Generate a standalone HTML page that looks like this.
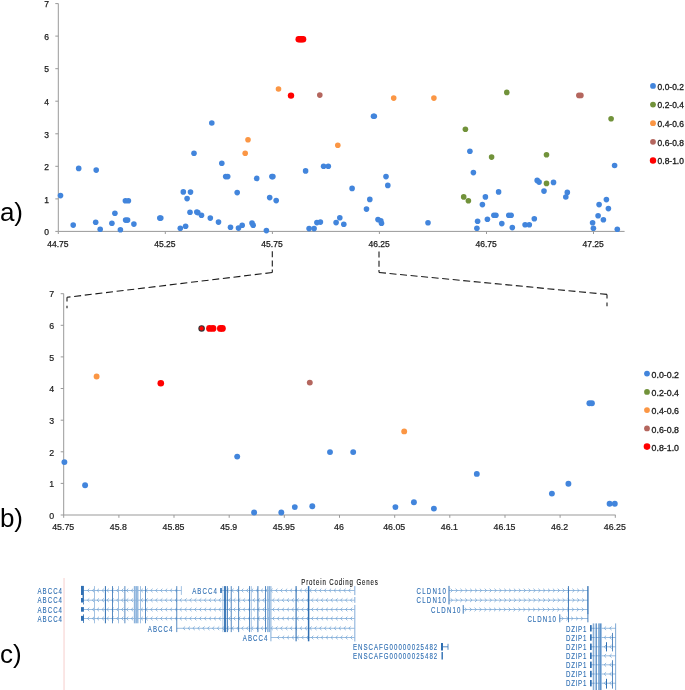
<!DOCTYPE html>
<html><head><meta charset="utf-8"><title>Figure</title>
<style>
html,body{margin:0;padding:0;background:#fff;}
svg{display:block;}
text{font-family:"Liberation Sans",sans-serif;}
.t{fill:#1a1a1a;}
.a{font-size:8.5px;stroke:#1a1a1a;stroke-width:0.25;}
.b{font-size:8.8px;stroke:#1a1a1a;stroke-width:0.2;}
.l{font-size:8.45px;stroke:#1a1a1a;stroke-width:0.3;}
.p{font-size:26px;fill:#000;}
.g{font-size:8.5px;stroke-width:0.12;}
</style></head><body>
<svg width="685" height="690" viewBox="0 0 685 690">
<rect width="685" height="690" fill="#fff"/>
<path d="M58.3 3.5V231.4H624.6" fill="none" stroke="#999" stroke-width="1"/>
<path d="M55.3 231.4H58.3" stroke="#999" stroke-width="1"/>
<text x="46.6" y="235.1" class="t a" text-anchor="middle">0</text>
<path d="M55.3 198.9H58.3" stroke="#999" stroke-width="1"/>
<text x="46.6" y="202.6" class="t a" text-anchor="middle">1</text>
<path d="M55.3 166.3H58.3" stroke="#999" stroke-width="1"/>
<text x="46.6" y="170.0" class="t a" text-anchor="middle">2</text>
<path d="M55.3 133.8H58.3" stroke="#999" stroke-width="1"/>
<text x="46.6" y="137.5" class="t a" text-anchor="middle">3</text>
<path d="M55.3 101.2H58.3" stroke="#999" stroke-width="1"/>
<text x="46.6" y="104.9" class="t a" text-anchor="middle">4</text>
<path d="M55.3 68.7H58.3" stroke="#999" stroke-width="1"/>
<text x="46.6" y="72.4" class="t a" text-anchor="middle">5</text>
<path d="M55.3 36.1H58.3" stroke="#999" stroke-width="1"/>
<text x="46.6" y="39.8" class="t a" text-anchor="middle">6</text>
<path d="M55.3 3.6H58.3" stroke="#999" stroke-width="1"/>
<text x="46.6" y="7.3" class="t a" text-anchor="middle">7</text>
<path d="M58.3 231.4V234" stroke="#999" stroke-width="1"/>
<text x="57.9" y="246.5" class="t a" text-anchor="middle">44.75</text>
<path d="M165.3 231.4V234" stroke="#999" stroke-width="1"/>
<text x="164.9" y="246.5" class="t a" text-anchor="middle">45.25</text>
<path d="M272.4 231.4V234" stroke="#999" stroke-width="1"/>
<text x="272.0" y="246.5" class="t a" text-anchor="middle">45.75</text>
<path d="M379.4 231.4V234" stroke="#999" stroke-width="1"/>
<text x="379.1" y="246.5" class="t a" text-anchor="middle">46.25</text>
<path d="M486.5 231.4V234" stroke="#999" stroke-width="1"/>
<text x="486.1" y="246.5" class="t a" text-anchor="middle">46.75</text>
<path d="M593.5 231.4V234" stroke="#999" stroke-width="1"/>
<text x="593.1" y="246.5" class="t a" text-anchor="middle">47.25</text>
<circle cx="60.5" cy="195.6" r="2.8" fill="#4285DC"/>
<circle cx="78.7" cy="168.4" r="2.8" fill="#4285DC"/>
<circle cx="96.2" cy="170.1" r="2.8" fill="#4285DC"/>
<circle cx="73.2" cy="225.1" r="2.8" fill="#4285DC"/>
<circle cx="95.7" cy="222.3" r="2.8" fill="#4285DC"/>
<circle cx="100.2" cy="229.3" r="2.8" fill="#4285DC"/>
<circle cx="111.9" cy="223.3" r="2.8" fill="#4285DC"/>
<circle cx="114.9" cy="213.3" r="2.8" fill="#4285DC"/>
<circle cx="120.4" cy="229.8" r="2.8" fill="#4285DC"/>
<circle cx="125.4" cy="200.8" r="2.8" fill="#4285DC"/>
<circle cx="128.4" cy="200.8" r="2.8" fill="#4285DC"/>
<circle cx="125.6" cy="220.1" r="2.8" fill="#4285DC"/>
<circle cx="127.6" cy="220.1" r="2.8" fill="#4285DC"/>
<circle cx="133.9" cy="224.1" r="2.8" fill="#4285DC"/>
<circle cx="159.8" cy="218.1" r="2.8" fill="#4285DC"/>
<circle cx="160.8" cy="218.1" r="2.8" fill="#4285DC"/>
<circle cx="180.3" cy="228.3" r="2.8" fill="#4285DC"/>
<circle cx="185.6" cy="226.3" r="2.8" fill="#4285DC"/>
<circle cx="183.3" cy="191.9" r="2.8" fill="#4285DC"/>
<circle cx="190.5" cy="192.1" r="2.8" fill="#4285DC"/>
<circle cx="187.1" cy="198.6" r="2.8" fill="#4285DC"/>
<circle cx="190.0" cy="212.3" r="2.8" fill="#4285DC"/>
<circle cx="196.8" cy="212.1" r="2.8" fill="#4285DC"/>
<circle cx="197.8" cy="212.6" r="2.8" fill="#4285DC"/>
<circle cx="201.5" cy="215.3" r="2.8" fill="#4285DC"/>
<circle cx="210.3" cy="218.1" r="2.8" fill="#4285DC"/>
<circle cx="218.5" cy="222.1" r="2.8" fill="#4285DC"/>
<circle cx="194.0" cy="153.2" r="2.8" fill="#4285DC"/>
<circle cx="211.8" cy="123.0" r="2.8" fill="#4285DC"/>
<circle cx="221.8" cy="163.2" r="2.8" fill="#4285DC"/>
<circle cx="225.7" cy="176.6" r="2.8" fill="#4285DC"/>
<circle cx="227.7" cy="176.6" r="2.8" fill="#4285DC"/>
<circle cx="230.5" cy="227.3" r="2.8" fill="#4285DC"/>
<circle cx="237.2" cy="192.6" r="2.8" fill="#4285DC"/>
<circle cx="238.5" cy="228.1" r="2.8" fill="#4285DC"/>
<circle cx="242.2" cy="225.3" r="2.8" fill="#4285DC"/>
<circle cx="252.0" cy="223.1" r="2.8" fill="#4285DC"/>
<circle cx="253.2" cy="225.3" r="2.8" fill="#4285DC"/>
<circle cx="256.7" cy="178.4" r="2.8" fill="#4285DC"/>
<circle cx="266.4" cy="230.6" r="2.8" fill="#4285DC"/>
<circle cx="269.7" cy="197.6" r="2.8" fill="#4285DC"/>
<circle cx="271.9" cy="176.6" r="2.8" fill="#4285DC"/>
<circle cx="272.9" cy="176.6" r="2.8" fill="#4285DC"/>
<circle cx="276.2" cy="200.6" r="2.8" fill="#4285DC"/>
<circle cx="305.6" cy="170.9" r="2.8" fill="#4285DC"/>
<circle cx="309.1" cy="228.6" r="2.8" fill="#4285DC"/>
<circle cx="314.1" cy="228.6" r="2.8" fill="#4285DC"/>
<circle cx="316.9" cy="222.6" r="2.8" fill="#4285DC"/>
<circle cx="320.4" cy="222.1" r="2.8" fill="#4285DC"/>
<circle cx="323.6" cy="166.2" r="2.8" fill="#4285DC"/>
<circle cx="328.3" cy="166.2" r="2.8" fill="#4285DC"/>
<circle cx="336.1" cy="222.6" r="2.8" fill="#4285DC"/>
<circle cx="339.8" cy="217.8" r="2.8" fill="#4285DC"/>
<circle cx="343.8" cy="224.3" r="2.8" fill="#4285DC"/>
<circle cx="352.1" cy="188.4" r="2.8" fill="#4285DC"/>
<circle cx="366.5" cy="209.1" r="2.8" fill="#4285DC"/>
<circle cx="369.8" cy="199.4" r="2.8" fill="#4285DC"/>
<circle cx="373.5" cy="116.2" r="2.8" fill="#4285DC"/>
<circle cx="374.3" cy="116.2" r="2.8" fill="#4285DC"/>
<circle cx="378.0" cy="219.6" r="2.8" fill="#4285DC"/>
<circle cx="380.8" cy="220.8" r="2.8" fill="#4285DC"/>
<circle cx="381.5" cy="223.3" r="2.8" fill="#4285DC"/>
<circle cx="386.0" cy="176.6" r="2.8" fill="#4285DC"/>
<circle cx="387.8" cy="185.4" r="2.8" fill="#4285DC"/>
<circle cx="428.0" cy="222.8" r="2.8" fill="#4285DC"/>
<circle cx="469.9" cy="151.2" r="2.8" fill="#4285DC"/>
<circle cx="473.4" cy="172.6" r="2.8" fill="#4285DC"/>
<circle cx="485.4" cy="196.9" r="2.8" fill="#4285DC"/>
<circle cx="482.4" cy="204.6" r="2.8" fill="#4285DC"/>
<circle cx="498.6" cy="191.9" r="2.8" fill="#4285DC"/>
<circle cx="477.6" cy="221.3" r="2.8" fill="#4285DC"/>
<circle cx="476.9" cy="228.3" r="2.8" fill="#4285DC"/>
<circle cx="487.4" cy="219.3" r="2.8" fill="#4285DC"/>
<circle cx="493.9" cy="215.3" r="2.8" fill="#4285DC"/>
<circle cx="495.9" cy="215.3" r="2.8" fill="#4285DC"/>
<circle cx="501.8" cy="223.6" r="2.8" fill="#4285DC"/>
<circle cx="508.8" cy="215.3" r="2.8" fill="#4285DC"/>
<circle cx="511.1" cy="215.3" r="2.8" fill="#4285DC"/>
<circle cx="512.3" cy="227.6" r="2.8" fill="#4285DC"/>
<circle cx="525.1" cy="224.8" r="2.8" fill="#4285DC"/>
<circle cx="529.3" cy="224.8" r="2.8" fill="#4285DC"/>
<circle cx="534.3" cy="218.8" r="2.8" fill="#4285DC"/>
<circle cx="537.2" cy="180.4" r="2.8" fill="#4285DC"/>
<circle cx="539.1" cy="182.1" r="2.8" fill="#4285DC"/>
<circle cx="544.0" cy="191.1" r="2.8" fill="#4285DC"/>
<circle cx="553.5" cy="182.4" r="2.8" fill="#4285DC"/>
<circle cx="565.8" cy="197.0" r="2.8" fill="#4285DC"/>
<circle cx="567.3" cy="192.4" r="2.8" fill="#4285DC"/>
<circle cx="592.6" cy="222.8" r="2.8" fill="#4285DC"/>
<circle cx="593.4" cy="228.3" r="2.8" fill="#4285DC"/>
<circle cx="598.1" cy="215.8" r="2.8" fill="#4285DC"/>
<circle cx="599.1" cy="204.6" r="2.8" fill="#4285DC"/>
<circle cx="603.4" cy="219.8" r="2.8" fill="#4285DC"/>
<circle cx="606.4" cy="199.6" r="2.8" fill="#4285DC"/>
<circle cx="608.4" cy="208.6" r="2.8" fill="#4285DC"/>
<circle cx="614.6" cy="165.5" r="2.8" fill="#4285DC"/>
<circle cx="617.3" cy="229.3" r="2.8" fill="#4285DC"/>
<circle cx="465.4" cy="129.2" r="2.8" fill="#71923A"/>
<circle cx="463.7" cy="196.9" r="2.8" fill="#71923A"/>
<circle cx="468.4" cy="200.8" r="2.8" fill="#71923A"/>
<circle cx="491.6" cy="157.1" r="2.8" fill="#71923A"/>
<circle cx="546.5" cy="154.8" r="2.8" fill="#71923A"/>
<circle cx="546.5" cy="183.4" r="2.8" fill="#71923A"/>
<circle cx="506.8" cy="92.4" r="2.8" fill="#71923A"/>
<circle cx="611.1" cy="118.8" r="2.8" fill="#71923A"/>
<circle cx="245.2" cy="153.2" r="2.8" fill="#FB9644"/>
<circle cx="248.0" cy="139.7" r="2.8" fill="#FB9644"/>
<circle cx="337.8" cy="145.2" r="2.8" fill="#FB9644"/>
<circle cx="278.5" cy="89.0" r="2.8" fill="#FB9644"/>
<circle cx="393.7" cy="98.1" r="2.8" fill="#FB9644"/>
<circle cx="433.9" cy="98.1" r="2.8" fill="#FB9644"/>
<circle cx="319.8" cy="95.1" r="2.8" fill="#B4665E"/>
<circle cx="578.9" cy="95.4" r="2.8" fill="#B4665E"/>
<circle cx="580.9" cy="95.4" r="2.8" fill="#B4665E"/>
<circle cx="291.0" cy="95.6" r="3.2" fill="#FF0000"/>
<circle cx="298.7" cy="39.2" r="3.2" fill="#FF0000"/>
<circle cx="300.2" cy="39.2" r="3.2" fill="#FF0000"/>
<circle cx="301.6" cy="39.2" r="3.2" fill="#FF0000"/>
<circle cx="303.1" cy="39.2" r="3.2" fill="#FF0000"/>
<circle cx="653.0" cy="85.9" r="2.9" fill="#4285DC"/>
<text x="657.6" y="89.7" class="t l">0.0-0.2</text>
<circle cx="653.0" cy="104.6" r="2.9" fill="#71923A"/>
<text x="657.6" y="108.4" class="t l">0.2-0.4</text>
<circle cx="653.0" cy="123.2" r="2.9" fill="#FB9644"/>
<text x="657.6" y="127.0" class="t l">0.4-0.6</text>
<circle cx="653.0" cy="141.8" r="2.9" fill="#B4665E"/>
<text x="657.6" y="145.7" class="t l">0.6-0.8</text>
<circle cx="653.0" cy="160.5" r="3.2" fill="#FF0000"/>
<text x="657.6" y="164.3" class="t l">0.8-1.0</text>
<path d="M272.3 251.2V272.5" stroke="#1a1a1a" stroke-width="1.1" fill="none" stroke-dasharray="6 3.2"/>
<path d="M272.3 272.5L67 297.3" stroke="#1a1a1a" stroke-width="1.1" fill="none" stroke-dasharray="7 3.7"/>
<path d="M67 297.3V308.3" stroke="#1a1a1a" stroke-width="1.1" fill="none" stroke-dasharray="4.2 4.2 3 9"/>
<path d="M379 251.6V272.5" stroke="#1a1a1a" stroke-width="1.1" fill="none" stroke-dasharray="6 3.2"/>
<path d="M379 272.5L607 294.4" stroke="#1a1a1a" stroke-width="1.1" fill="none" stroke-dasharray="7 3.574"/>
<path d="M607 294.4V306.3" stroke="#1a1a1a" stroke-width="1.1" fill="none" stroke-dasharray="4.2 4 4 9"/>
<path d="M63.7 293.7V515H615.6" fill="none" stroke="#999" stroke-width="1"/>
<path d="M60.7 515.0H63.7" stroke="#999" stroke-width="1"/>
<text x="51.6" y="518.7" class="t b" text-anchor="middle">0</text>
<path d="M60.7 483.4H63.7" stroke="#999" stroke-width="1"/>
<text x="51.6" y="487.1" class="t b" text-anchor="middle">1</text>
<path d="M60.7 451.8H63.7" stroke="#999" stroke-width="1"/>
<text x="51.6" y="455.5" class="t b" text-anchor="middle">2</text>
<path d="M60.7 420.2H63.7" stroke="#999" stroke-width="1"/>
<text x="51.6" y="423.9" class="t b" text-anchor="middle">3</text>
<path d="M60.7 388.5H63.7" stroke="#999" stroke-width="1"/>
<text x="51.6" y="392.2" class="t b" text-anchor="middle">4</text>
<path d="M60.7 356.9H63.7" stroke="#999" stroke-width="1"/>
<text x="51.6" y="360.6" class="t b" text-anchor="middle">5</text>
<path d="M60.7 325.3H63.7" stroke="#999" stroke-width="1"/>
<text x="51.6" y="329.0" class="t b" text-anchor="middle">6</text>
<path d="M60.7 293.7H63.7" stroke="#999" stroke-width="1"/>
<text x="51.6" y="297.4" class="t b" text-anchor="middle">7</text>
<path d="M63.7 515V517.8" stroke="#999" stroke-width="1"/>
<text x="63.2" y="529.7" class="t b" text-anchor="middle">45.75</text>
<path d="M118.9 515V517.8" stroke="#999" stroke-width="1"/>
<text x="118.4" y="529.7" class="t b" text-anchor="middle">45.8</text>
<path d="M174.0 515V517.8" stroke="#999" stroke-width="1"/>
<text x="173.5" y="529.7" class="t b" text-anchor="middle">45.85</text>
<path d="M229.2 515V517.8" stroke="#999" stroke-width="1"/>
<text x="228.7" y="529.7" class="t b" text-anchor="middle">45.9</text>
<path d="M284.3 515V517.8" stroke="#999" stroke-width="1"/>
<text x="283.8" y="529.7" class="t b" text-anchor="middle">45.95</text>
<path d="M339.5 515V517.8" stroke="#999" stroke-width="1"/>
<text x="339.0" y="529.7" class="t b" text-anchor="middle">46</text>
<path d="M394.7 515V517.8" stroke="#999" stroke-width="1"/>
<text x="394.2" y="529.7" class="t b" text-anchor="middle">46.05</text>
<path d="M449.8 515V517.8" stroke="#999" stroke-width="1"/>
<text x="449.3" y="529.7" class="t b" text-anchor="middle">46.1</text>
<path d="M505.0 515V517.8" stroke="#999" stroke-width="1"/>
<text x="504.5" y="529.7" class="t b" text-anchor="middle">46.15</text>
<path d="M560.1 515V517.8" stroke="#999" stroke-width="1"/>
<text x="559.6" y="529.7" class="t b" text-anchor="middle">46.2</text>
<path d="M615.3 515V517.8" stroke="#999" stroke-width="1"/>
<text x="614.8" y="529.7" class="t b" text-anchor="middle">46.25</text>
<circle cx="64.4" cy="462.1" r="2.95" fill="#4285DC"/>
<circle cx="85.1" cy="485.3" r="2.95" fill="#4285DC"/>
<circle cx="237.2" cy="456.6" r="2.95" fill="#4285DC"/>
<circle cx="254.1" cy="512.5" r="2.95" fill="#4285DC"/>
<circle cx="281.3" cy="512.5" r="2.95" fill="#4285DC"/>
<circle cx="294.8" cy="507.1" r="2.95" fill="#4285DC"/>
<circle cx="312.3" cy="506.3" r="2.95" fill="#4285DC"/>
<circle cx="330.0" cy="452.1" r="2.95" fill="#4285DC"/>
<circle cx="353.2" cy="452.1" r="2.95" fill="#4285DC"/>
<circle cx="395.4" cy="507.1" r="2.95" fill="#4285DC"/>
<circle cx="413.9" cy="502.3" r="2.95" fill="#4285DC"/>
<circle cx="433.9" cy="508.6" r="2.95" fill="#4285DC"/>
<circle cx="476.8" cy="473.9" r="2.95" fill="#4285DC"/>
<circle cx="589.4" cy="403.2" r="2.95" fill="#4285DC"/>
<circle cx="591.9" cy="403.2" r="2.95" fill="#4285DC"/>
<circle cx="568.4" cy="483.8" r="2.95" fill="#4285DC"/>
<circle cx="551.9" cy="493.6" r="2.95" fill="#4285DC"/>
<circle cx="609.6" cy="503.8" r="2.95" fill="#4285DC"/>
<circle cx="614.8" cy="503.8" r="2.95" fill="#4285DC"/>
<circle cx="96.6" cy="376.5" r="2.95" fill="#FB9644"/>
<circle cx="404.2" cy="431.4" r="2.95" fill="#FB9644"/>
<circle cx="309.8" cy="382.6" r="2.95" fill="#B4665E"/>
<circle cx="160.8" cy="383.3" r="3.3" fill="#FF0000"/>
<circle cx="201.6" cy="328.4" r="2.7" fill="#FF0000" stroke="#333" stroke-width="1.1"/>
<circle cx="209.5" cy="328.4" r="3.4" fill="#FF0000"/>
<circle cx="213.0" cy="328.4" r="3.4" fill="#FF0000"/>
<circle cx="220.4" cy="328.4" r="3.4" fill="#FF0000"/>
<circle cx="222.4" cy="328.4" r="3.4" fill="#FF0000"/>
<circle cx="647.0" cy="373.6" r="2.9" fill="#4285DC"/>
<text x="651.6" y="377.7" class="t l" style="font-size:8.8px">0.0-0.2</text>
<circle cx="647.0" cy="391.9" r="2.9" fill="#71923A"/>
<text x="651.6" y="396.0" class="t l" style="font-size:8.8px">0.2-0.4</text>
<circle cx="647.0" cy="410.1" r="2.9" fill="#FB9644"/>
<text x="651.6" y="414.2" class="t l" style="font-size:8.8px">0.4-0.6</text>
<circle cx="647.0" cy="428.4" r="2.9" fill="#B4665E"/>
<text x="651.6" y="432.5" class="t l" style="font-size:8.8px">0.6-0.8</text>
<circle cx="647.0" cy="446.6" r="3.3" fill="#FF0000"/>
<text x="651.6" y="450.7" class="t l" style="font-size:8.8px">0.8-1.0</text>
<text x="-0.1" y="221.3" class="p">a)</text>
<text x="-0.1" y="526.6" class="p">b)</text>
<text x="-0.1" y="662.9" class="p">c)</text>
<path d="M64.05 578.1V690" stroke="#fae3e1" stroke-width="1.7"/>
<text transform="translate(301.2 585) scale(0.72 1)" class="g" fill="#111" stroke="#111" textLength="106.5" lengthAdjust="spacing">Protein Coding Genes</text>
<text transform="translate(37.4 593.7) scale(0.72 1)" class="g" fill="#2F6FB3" stroke="#2F6FB3" textLength="34.2" lengthAdjust="spacing">ABCC4</text>
<text transform="translate(37.4 603.4) scale(0.72 1)" class="g" fill="#2F6FB3" stroke="#2F6FB3" textLength="34.2" lengthAdjust="spacing">ABCC4</text>
<text transform="translate(37.4 612.7) scale(0.72 1)" class="g" fill="#2F6FB3" stroke="#2F6FB3" textLength="34.2" lengthAdjust="spacing">ABCC4</text>
<text transform="translate(37.4 621.7) scale(0.72 1)" class="g" fill="#2F6FB3" stroke="#2F6FB3" textLength="34.2" lengthAdjust="spacing">ABCC4</text>
<text transform="translate(192.2 593.7) scale(0.72 1)" class="g" fill="#2F6FB3" stroke="#2F6FB3" textLength="34.2" lengthAdjust="spacing">ABCC4</text>
<text transform="translate(147.8 631.5) scale(0.72 1)" class="g" fill="#2F6FB3" stroke="#2F6FB3" textLength="34.2" lengthAdjust="spacing">ABCC4</text>
<text transform="translate(242.8 640.7) scale(0.72 1)" class="g" fill="#2F6FB3" stroke="#2F6FB3" textLength="34.2" lengthAdjust="spacing">ABCC4</text>
<path d="M81 590.5H181.3" stroke="#6FA1D3" stroke-width="0.7"/>
<path d="M89.3 588.7L87.4 590.5L89.3 592.3M94.2 588.7L92.3 590.5L94.2 592.3M99.0 588.7L97.1 590.5L99.0 592.3M103.9 588.7L102.0 590.5L103.9 592.3M108.8 588.7L106.9 590.5L108.8 592.3M113.7 588.7L111.8 590.5L113.7 592.3M118.5 588.7L116.6 590.5L118.5 592.3M123.4 588.7L121.5 590.5L123.4 592.3M128.3 588.7L126.4 590.5L128.3 592.3M133.1 588.7L131.2 590.5L133.1 592.3M138.0 588.7L136.1 590.5L138.0 592.3M142.9 588.7L141.0 590.5L142.9 592.3M147.7 588.7L145.8 590.5L147.7 592.3M152.6 588.7L150.7 590.5L152.6 592.3M157.5 588.7L155.6 590.5L157.5 592.3M162.4 588.7L160.5 590.5L162.4 592.3M167.2 588.7L165.3 590.5L167.2 592.3M172.1 588.7L170.2 590.5L172.1 592.3M177.0 588.7L175.1 590.5L177.0 592.3" stroke="#6FA1D3" stroke-width="0.75" fill="none"/>
<path d="M81 600.2H354.8" stroke="#6FA1D3" stroke-width="0.7"/>
<path d="M89.3 598.4L87.4 600.2L89.3 602.0M94.2 598.4L92.3 600.2L94.2 602.0M99.0 598.4L97.1 600.2L99.0 602.0M103.9 598.4L102.0 600.2L103.9 602.0M108.8 598.4L106.9 600.2L108.8 602.0M113.7 598.4L111.8 600.2L113.7 602.0M118.5 598.4L116.6 600.2L118.5 602.0M123.4 598.4L121.5 600.2L123.4 602.0M128.3 598.4L126.4 600.2L128.3 602.0M133.1 598.4L131.2 600.2L133.1 602.0M138.0 598.4L136.1 600.2L138.0 602.0M142.9 598.4L141.0 600.2L142.9 602.0M147.7 598.4L145.8 600.2L147.7 602.0M152.6 598.4L150.7 600.2L152.6 602.0M157.5 598.4L155.6 600.2L157.5 602.0M162.4 598.4L160.5 600.2L162.4 602.0M167.2 598.4L165.3 600.2L167.2 602.0M172.1 598.4L170.2 600.2L172.1 602.0M177.0 598.4L175.1 600.2L177.0 602.0M181.8 598.4L179.9 600.2L181.8 602.0M186.7 598.4L184.8 600.2L186.7 602.0M191.6 598.4L189.7 600.2L191.6 602.0M196.4 598.4L194.5 600.2L196.4 602.0M201.3 598.4L199.4 600.2L201.3 602.0M206.2 598.4L204.3 600.2L206.2 602.0M211.1 598.4L209.2 600.2L211.1 602.0M215.9 598.4L214.0 600.2L215.9 602.0M220.8 598.4L218.9 600.2L220.8 602.0M225.7 598.4L223.8 600.2L225.7 602.0M230.5 598.4L228.6 600.2L230.5 602.0M235.4 598.4L233.5 600.2L235.4 602.0M240.3 598.4L238.4 600.2L240.3 602.0M245.1 598.4L243.2 600.2L245.1 602.0M250.0 598.4L248.1 600.2L250.0 602.0M254.9 598.4L253.0 600.2L254.9 602.0M259.8 598.4L257.9 600.2L259.8 602.0M264.6 598.4L262.7 600.2L264.6 602.0M269.5 598.4L267.6 600.2L269.5 602.0M274.4 598.4L272.5 600.2L274.4 602.0M279.2 598.4L277.3 600.2L279.2 602.0M284.1 598.4L282.2 600.2L284.1 602.0M289.0 598.4L287.1 600.2L289.0 602.0M293.8 598.4L291.9 600.2L293.8 602.0M298.7 598.4L296.8 600.2L298.7 602.0M303.6 598.4L301.7 600.2L303.6 602.0M308.5 598.4L306.6 600.2L308.5 602.0M313.3 598.4L311.4 600.2L313.3 602.0M318.2 598.4L316.3 600.2L318.2 602.0M323.1 598.4L321.2 600.2L323.1 602.0M327.9 598.4L326.0 600.2L327.9 602.0M332.8 598.4L330.9 600.2L332.8 602.0M337.7 598.4L335.8 600.2L337.7 602.0M342.5 598.4L340.6 600.2L342.5 602.0M347.4 598.4L345.5 600.2L347.4 602.0M352.3 598.4L350.4 600.2L352.3 602.0" stroke="#6FA1D3" stroke-width="0.75" fill="none"/>
<path d="M81 609.5H354.8" stroke="#6FA1D3" stroke-width="0.7"/>
<path d="M89.3 607.7L87.4 609.5L89.3 611.3M94.2 607.7L92.3 609.5L94.2 611.3M99.0 607.7L97.1 609.5L99.0 611.3M103.9 607.7L102.0 609.5L103.9 611.3M108.8 607.7L106.9 609.5L108.8 611.3M113.7 607.7L111.8 609.5L113.7 611.3M118.5 607.7L116.6 609.5L118.5 611.3M123.4 607.7L121.5 609.5L123.4 611.3M128.3 607.7L126.4 609.5L128.3 611.3M133.1 607.7L131.2 609.5L133.1 611.3M138.0 607.7L136.1 609.5L138.0 611.3M142.9 607.7L141.0 609.5L142.9 611.3M147.7 607.7L145.8 609.5L147.7 611.3M152.6 607.7L150.7 609.5L152.6 611.3M157.5 607.7L155.6 609.5L157.5 611.3M162.4 607.7L160.5 609.5L162.4 611.3M167.2 607.7L165.3 609.5L167.2 611.3M172.1 607.7L170.2 609.5L172.1 611.3M177.0 607.7L175.1 609.5L177.0 611.3M181.8 607.7L179.9 609.5L181.8 611.3M186.7 607.7L184.8 609.5L186.7 611.3M191.6 607.7L189.7 609.5L191.6 611.3M196.4 607.7L194.5 609.5L196.4 611.3M201.3 607.7L199.4 609.5L201.3 611.3M206.2 607.7L204.3 609.5L206.2 611.3M211.1 607.7L209.2 609.5L211.1 611.3M215.9 607.7L214.0 609.5L215.9 611.3M220.8 607.7L218.9 609.5L220.8 611.3M225.7 607.7L223.8 609.5L225.7 611.3M230.5 607.7L228.6 609.5L230.5 611.3M235.4 607.7L233.5 609.5L235.4 611.3M240.3 607.7L238.4 609.5L240.3 611.3M245.1 607.7L243.2 609.5L245.1 611.3M250.0 607.7L248.1 609.5L250.0 611.3M254.9 607.7L253.0 609.5L254.9 611.3M259.8 607.7L257.9 609.5L259.8 611.3M264.6 607.7L262.7 609.5L264.6 611.3M269.5 607.7L267.6 609.5L269.5 611.3M274.4 607.7L272.5 609.5L274.4 611.3M279.2 607.7L277.3 609.5L279.2 611.3M284.1 607.7L282.2 609.5L284.1 611.3M289.0 607.7L287.1 609.5L289.0 611.3M293.8 607.7L291.9 609.5L293.8 611.3M298.7 607.7L296.8 609.5L298.7 611.3M303.6 607.7L301.7 609.5L303.6 611.3M308.5 607.7L306.6 609.5L308.5 611.3M313.3 607.7L311.4 609.5L313.3 611.3M318.2 607.7L316.3 609.5L318.2 611.3M323.1 607.7L321.2 609.5L323.1 611.3M327.9 607.7L326.0 609.5L327.9 611.3M332.8 607.7L330.9 609.5L332.8 611.3M337.7 607.7L335.8 609.5L337.7 611.3M342.5 607.7L340.6 609.5L342.5 611.3M347.4 607.7L345.5 609.5L347.4 611.3M352.3 607.7L350.4 609.5L352.3 611.3" stroke="#6FA1D3" stroke-width="0.75" fill="none"/>
<path d="M81 618.5H354.8" stroke="#6FA1D3" stroke-width="0.7"/>
<path d="M89.3 616.7L87.4 618.5L89.3 620.3M94.2 616.7L92.3 618.5L94.2 620.3M99.0 616.7L97.1 618.5L99.0 620.3M103.9 616.7L102.0 618.5L103.9 620.3M108.8 616.7L106.9 618.5L108.8 620.3M113.7 616.7L111.8 618.5L113.7 620.3M118.5 616.7L116.6 618.5L118.5 620.3M123.4 616.7L121.5 618.5L123.4 620.3M128.3 616.7L126.4 618.5L128.3 620.3M133.1 616.7L131.2 618.5L133.1 620.3M138.0 616.7L136.1 618.5L138.0 620.3M142.9 616.7L141.0 618.5L142.9 620.3M147.7 616.7L145.8 618.5L147.7 620.3M152.6 616.7L150.7 618.5L152.6 620.3M157.5 616.7L155.6 618.5L157.5 620.3M162.4 616.7L160.5 618.5L162.4 620.3M167.2 616.7L165.3 618.5L167.2 620.3M172.1 616.7L170.2 618.5L172.1 620.3M177.0 616.7L175.1 618.5L177.0 620.3M181.8 616.7L179.9 618.5L181.8 620.3M186.7 616.7L184.8 618.5L186.7 620.3M191.6 616.7L189.7 618.5L191.6 620.3M196.4 616.7L194.5 618.5L196.4 620.3M201.3 616.7L199.4 618.5L201.3 620.3M206.2 616.7L204.3 618.5L206.2 620.3M211.1 616.7L209.2 618.5L211.1 620.3M215.9 616.7L214.0 618.5L215.9 620.3M220.8 616.7L218.9 618.5L220.8 620.3M225.7 616.7L223.8 618.5L225.7 620.3M230.5 616.7L228.6 618.5L230.5 620.3M235.4 616.7L233.5 618.5L235.4 620.3M240.3 616.7L238.4 618.5L240.3 620.3M245.1 616.7L243.2 618.5L245.1 620.3M250.0 616.7L248.1 618.5L250.0 620.3M254.9 616.7L253.0 618.5L254.9 620.3M259.8 616.7L257.9 618.5L259.8 620.3M264.6 616.7L262.7 618.5L264.6 620.3M269.5 616.7L267.6 618.5L269.5 620.3M274.4 616.7L272.5 618.5L274.4 620.3M279.2 616.7L277.3 618.5L279.2 620.3M284.1 616.7L282.2 618.5L284.1 620.3M289.0 616.7L287.1 618.5L289.0 620.3M293.8 616.7L291.9 618.5L293.8 620.3M298.7 616.7L296.8 618.5L298.7 620.3M303.6 616.7L301.7 618.5L303.6 620.3M308.5 616.7L306.6 618.5L308.5 620.3M313.3 616.7L311.4 618.5L313.3 620.3M318.2 616.7L316.3 618.5L318.2 620.3M323.1 616.7L321.2 618.5L323.1 620.3M327.9 616.7L326.0 618.5L327.9 620.3M332.8 616.7L330.9 618.5L332.8 620.3M337.7 616.7L335.8 618.5L337.7 620.3M342.5 616.7L340.6 618.5L342.5 620.3M347.4 616.7L345.5 618.5L347.4 620.3M352.3 616.7L350.4 618.5L352.3 620.3" stroke="#6FA1D3" stroke-width="0.75" fill="none"/>
<path d="M220.5 590.5H354.8" stroke="#6FA1D3" stroke-width="0.7"/>
<path d="M228.8 588.7L226.9 590.5L228.8 592.3M233.7 588.7L231.8 590.5L233.7 592.3M238.5 588.7L236.6 590.5L238.5 592.3M243.4 588.7L241.5 590.5L243.4 592.3M248.3 588.7L246.4 590.5L248.3 592.3M253.2 588.7L251.3 590.5L253.2 592.3M258.0 588.7L256.1 590.5L258.0 592.3M262.9 588.7L261.0 590.5L262.9 592.3M267.8 588.7L265.9 590.5L267.8 592.3M272.6 588.7L270.7 590.5L272.6 592.3M277.5 588.7L275.6 590.5L277.5 592.3M282.4 588.7L280.5 590.5L282.4 592.3M287.2 588.7L285.3 590.5L287.2 592.3M292.1 588.7L290.2 590.5L292.1 592.3M297.0 588.7L295.1 590.5L297.0 592.3M301.9 588.7L300.0 590.5L301.9 592.3M306.7 588.7L304.8 590.5L306.7 592.3M311.6 588.7L309.7 590.5L311.6 592.3M316.5 588.7L314.6 590.5L316.5 592.3M321.3 588.7L319.4 590.5L321.3 592.3M326.2 588.7L324.3 590.5L326.2 592.3M331.1 588.7L329.2 590.5L331.1 592.3M335.9 588.7L334.0 590.5L335.9 592.3M340.8 588.7L338.9 590.5L340.8 592.3M345.7 588.7L343.8 590.5L345.7 592.3M350.6 588.7L348.7 590.5L350.6 592.3" stroke="#6FA1D3" stroke-width="0.75" fill="none"/>
<path d="M176.8 628.3H354.8" stroke="#6FA1D3" stroke-width="0.7"/>
<path d="M185.1 626.5L183.2 628.3L185.1 630.1M190.0 626.5L188.1 628.3L190.0 630.1M194.8 626.5L192.9 628.3L194.8 630.1M199.7 626.5L197.8 628.3L199.7 630.1M204.6 626.5L202.7 628.3L204.6 630.1M209.5 626.5L207.6 628.3L209.5 630.1M214.3 626.5L212.4 628.3L214.3 630.1M219.2 626.5L217.3 628.3L219.2 630.1M224.1 626.5L222.2 628.3L224.1 630.1M228.9 626.5L227.0 628.3L228.9 630.1M233.8 626.5L231.9 628.3L233.8 630.1M238.7 626.5L236.8 628.3L238.7 630.1M243.5 626.5L241.6 628.3L243.5 630.1M248.4 626.5L246.5 628.3L248.4 630.1M253.3 626.5L251.4 628.3L253.3 630.1M258.2 626.5L256.3 628.3L258.2 630.1M263.0 626.5L261.1 628.3L263.0 630.1M267.9 626.5L266.0 628.3L267.9 630.1M272.8 626.5L270.9 628.3L272.8 630.1M277.6 626.5L275.7 628.3L277.6 630.1M282.5 626.5L280.6 628.3L282.5 630.1M287.4 626.5L285.5 628.3L287.4 630.1M292.2 626.5L290.3 628.3L292.2 630.1M297.1 626.5L295.2 628.3L297.1 630.1M302.0 626.5L300.1 628.3L302.0 630.1M306.9 626.5L305.0 628.3L306.9 630.1M311.7 626.5L309.8 628.3L311.7 630.1M316.6 626.5L314.7 628.3L316.6 630.1M321.5 626.5L319.6 628.3L321.5 630.1M326.3 626.5L324.4 628.3L326.3 630.1M331.2 626.5L329.3 628.3L331.2 630.1M336.1 626.5L334.2 628.3L336.1 630.1M340.9 626.5L339.0 628.3L340.9 630.1M345.8 626.5L343.9 628.3L345.8 630.1M350.7 626.5L348.8 628.3L350.7 630.1" stroke="#6FA1D3" stroke-width="0.75" fill="none"/>
<path d="M271 637.5H354.8" stroke="#6FA1D3" stroke-width="0.7"/>
<path d="M279.3 635.7L277.4 637.5L279.3 639.3M284.2 635.7L282.3 637.5L284.2 639.3M289.0 635.7L287.1 637.5L289.0 639.3M293.9 635.7L292.0 637.5L293.9 639.3M298.8 635.7L296.9 637.5L298.8 639.3M303.6 635.7L301.8 637.5L303.6 639.3M308.5 635.7L306.6 637.5L308.5 639.3M313.4 635.7L311.5 637.5L313.4 639.3M318.3 635.7L316.4 637.5L318.3 639.3M323.1 635.7L321.2 637.5L323.1 639.3M328.0 635.7L326.1 637.5L328.0 639.3M332.9 635.7L331.0 637.5L332.9 639.3M337.7 635.7L335.8 637.5L337.7 639.3M342.6 635.7L340.7 637.5L342.6 639.3M347.5 635.7L345.6 637.5L347.5 639.3M352.4 635.7L350.5 637.5L352.4 639.3" stroke="#6FA1D3" stroke-width="0.75" fill="none"/>
<rect x="81" y="585.9" width="2.9" height="9.1" fill="#2F6FB3"/>
<rect x="82.6" y="595" width="1.3" height="3.0" fill="#2F6FB3"/>
<rect x="81" y="598" width="2.9" height="4.5" fill="#2F6FB3"/>
<rect x="83.1" y="602.5" width="0.8" height="2.0" fill="#2F6FB3"/>
<rect x="81" y="607.1" width="2.9" height="4.6" fill="#2F6FB3"/>
<rect x="81" y="615.9" width="2.9" height="4.9" fill="#2F6FB3"/>
<rect x="83.1" y="614.3" width="0.8" height="8.7" fill="#2F6FB3"/>
<rect x="220.2" y="588.0" width="1.6" height="5" fill="#2F6FB3" opacity="1"/>
<rect x="180.90" y="586.1" width="0.8" height="8.8" fill="#8DB4DC"/>
<rect x="94.10" y="586.1" width="0.8" height="37.2" fill="#8DB4DC"/>
<rect x="104.90" y="586.1" width="1.0" height="37.2" fill="#2F6FB3"/>
<rect x="112.00" y="586.1" width="0.8" height="37.2" fill="#2F6FB3"/>
<rect x="118.10" y="586.1" width="0.8" height="37.2" fill="#8DB4DC"/>
<rect x="124.50" y="586.1" width="0.8" height="37.2" fill="#2F6FB3"/>
<rect x="133.85" y="586.1" width="1.5" height="37.2" fill="#8DB4DC"/>
<rect x="135.45" y="586.1" width="1.5" height="37.2" fill="#8DB4DC"/>
<rect x="137.15" y="586.1" width="1.3" height="37.2" fill="#8DB4DC"/>
<rect x="140.00" y="586.1" width="0.8" height="37.2" fill="#8DB4DC"/>
<rect x="145.00" y="586.1" width="0.8" height="37.2" fill="#2F6FB3"/>
<rect x="176.40" y="586.1" width="0.8" height="46.0" fill="#2F6FB3"/>
<rect x="222.55" y="586.1" width="0.7" height="46.0" fill="#8DB4DC"/>
<rect x="224.10" y="586.1" width="1.8" height="46.0" fill="#2F6FB3"/>
<rect x="226.80" y="586.1" width="1.0" height="46.0" fill="#2F6FB3"/>
<rect x="230.80" y="586.1" width="0.8" height="46.0" fill="#2F6FB3"/>
<rect x="238.30" y="586.1" width="0.8" height="46.0" fill="#2F6FB3"/>
<rect x="249.00" y="586.1" width="0.8" height="46.0" fill="#2F6FB3"/>
<rect x="250.80" y="586.1" width="0.8" height="46.0" fill="#8DB4DC"/>
<rect x="257.45" y="586.1" width="0.9" height="46.0" fill="#2F6FB3"/>
<rect x="265.00" y="586.1" width="0.8" height="46.0" fill="#2F6FB3"/>
<rect x="267.10" y="586.1" width="1.4" height="46.0" fill="#8DB4DC"/>
<rect x="268.70" y="586.1" width="1.4" height="46.0" fill="#8DB4DC"/>
<rect x="270.35" y="586.1" width="1.1" height="55.2" fill="#8DB4DC"/>
<rect x="295.55" y="586.1" width="1.1" height="55.2" fill="#2F6FB3"/>
<rect x="307.85" y="586.1" width="1.5" height="55.2" fill="#2F6FB3"/>
<rect x="354.25" y="586.1" width="1.1" height="9.0" fill="#8fb4dd"/>
<rect x="354.25" y="597.0" width="1.1" height="5.8" fill="#8fb4dd"/>
<rect x="354.25" y="604.9" width="1.1" height="36.6" fill="#8fb4dd"/>
<text transform="translate(352.9 650.0) scale(0.72 1)" class="g" fill="#2F6FB3" stroke="#2F6FB3" textLength="117.2" lengthAdjust="spacing">ENSCAFG00000025482</text>
<text transform="translate(352.9 659.0) scale(0.72 1)" class="g" fill="#2F6FB3" stroke="#2F6FB3" textLength="117.2" lengthAdjust="spacing">ENSCAFG00000025482</text>
<rect x="441.0" y="643.0" width="2.0" height="7.5" fill="#2F6FB3" opacity="1"/>
<rect x="441.5" y="652.0" width="1.4" height="7.5" fill="#2F6FB3" opacity="1"/>
<path d="M443 646.8H448M448 643.8V649.8" stroke="#2F6FB3" stroke-width="0.8"/>
<text transform="translate(416.6 593.7) scale(0.72 1)" class="g" fill="#2F6FB3" stroke="#2F6FB3" textLength="40.8" lengthAdjust="spacing">CLDN10</text>
<text transform="translate(416.6 603.4) scale(0.72 1)" class="g" fill="#2F6FB3" stroke="#2F6FB3" textLength="40.8" lengthAdjust="spacing">CLDN10</text>
<text transform="translate(431.1 612.7) scale(0.72 1)" class="g" fill="#2F6FB3" stroke="#2F6FB3" textLength="40.8" lengthAdjust="spacing">CLDN10</text>
<text transform="translate(527.4 621.7) scale(0.72 1)" class="g" fill="#2F6FB3" stroke="#2F6FB3" textLength="39.7" lengthAdjust="spacing">CLDN10</text>
<path d="M449 590.5H587.9" stroke="#6FA1D3" stroke-width="0.7"/>
<path d="M450.6 588.7L452.5 590.5L450.6 592.3M455.5 588.7L457.4 590.5L455.5 592.3M460.3 588.7L462.2 590.5L460.3 592.3M465.2 588.7L467.1 590.5L465.2 592.3M470.1 588.7L472.0 590.5L470.1 592.3M475.0 588.7L476.9 590.5L475.0 592.3M479.8 588.7L481.7 590.5L479.8 592.3M484.7 588.7L486.6 590.5L484.7 592.3M489.6 588.7L491.5 590.5L489.6 592.3M494.4 588.7L496.3 590.5L494.4 592.3M499.3 588.7L501.2 590.5L499.3 592.3M504.2 588.7L506.1 590.5L504.2 592.3M509.0 588.7L510.9 590.5L509.0 592.3M513.9 588.7L515.8 590.5L513.9 592.3M518.8 588.7L520.7 590.5L518.8 592.3M523.7 588.7L525.6 590.5L523.7 592.3M528.5 588.7L530.4 590.5L528.5 592.3M533.4 588.7L535.3 590.5L533.4 592.3M538.3 588.7L540.2 590.5L538.3 592.3M543.1 588.7L545.0 590.5L543.1 592.3M548.0 588.7L549.9 590.5L548.0 592.3M552.9 588.7L554.8 590.5L552.9 592.3M557.7 588.7L559.6 590.5L557.7 592.3M562.6 588.7L564.5 590.5L562.6 592.3M567.5 588.7L569.4 590.5L567.5 592.3M572.4 588.7L574.3 590.5L572.4 592.3M577.2 588.7L579.1 590.5L577.2 592.3M582.1 588.7L584.0 590.5L582.1 592.3" stroke="#6FA1D3" stroke-width="0.75" fill="none"/>
<path d="M449 600.2H587.9" stroke="#6FA1D3" stroke-width="0.7"/>
<path d="M450.6 598.4L452.5 600.2L450.6 602.0M455.5 598.4L457.4 600.2L455.5 602.0M460.3 598.4L462.2 600.2L460.3 602.0M465.2 598.4L467.1 600.2L465.2 602.0M470.1 598.4L472.0 600.2L470.1 602.0M475.0 598.4L476.9 600.2L475.0 602.0M479.8 598.4L481.7 600.2L479.8 602.0M484.7 598.4L486.6 600.2L484.7 602.0M489.6 598.4L491.5 600.2L489.6 602.0M494.4 598.4L496.3 600.2L494.4 602.0M499.3 598.4L501.2 600.2L499.3 602.0M504.2 598.4L506.1 600.2L504.2 602.0M509.0 598.4L510.9 600.2L509.0 602.0M513.9 598.4L515.8 600.2L513.9 602.0M518.8 598.4L520.7 600.2L518.8 602.0M523.7 598.4L525.6 600.2L523.7 602.0M528.5 598.4L530.4 600.2L528.5 602.0M533.4 598.4L535.3 600.2L533.4 602.0M538.3 598.4L540.2 600.2L538.3 602.0M543.1 598.4L545.0 600.2L543.1 602.0M548.0 598.4L549.9 600.2L548.0 602.0M552.9 598.4L554.8 600.2L552.9 602.0M557.7 598.4L559.6 600.2L557.7 602.0M562.6 598.4L564.5 600.2L562.6 602.0M567.5 598.4L569.4 600.2L567.5 602.0M572.4 598.4L574.3 600.2L572.4 602.0M577.2 598.4L579.1 600.2L577.2 602.0M582.1 598.4L584.0 600.2L582.1 602.0" stroke="#6FA1D3" stroke-width="0.75" fill="none"/>
<path d="M463.2 609.5H587.9" stroke="#6FA1D3" stroke-width="0.7"/>
<path d="M464.8 607.7L466.7 609.5L464.8 611.3M469.7 607.7L471.6 609.5L469.7 611.3M474.5 607.7L476.4 609.5L474.5 611.3M479.4 607.7L481.3 609.5L479.4 611.3M484.3 607.7L486.2 609.5L484.3 611.3M489.2 607.7L491.1 609.5L489.2 611.3M494.0 607.7L495.9 609.5L494.0 611.3M498.9 607.7L500.8 609.5L498.9 611.3M503.8 607.7L505.7 609.5L503.8 611.3M508.6 607.7L510.5 609.5L508.6 611.3M513.5 607.7L515.4 609.5L513.5 611.3M518.4 607.7L520.3 609.5L518.4 611.3M523.2 607.7L525.1 609.5L523.2 611.3M528.1 607.7L530.0 609.5L528.1 611.3M533.0 607.7L534.9 609.5L533.0 611.3M537.9 607.7L539.8 609.5L537.9 611.3M542.7 607.7L544.6 609.5L542.7 611.3M547.6 607.7L549.5 609.5L547.6 611.3M552.5 607.7L554.4 609.5L552.5 611.3M557.3 607.7L559.2 609.5L557.3 611.3M562.2 607.7L564.1 609.5L562.2 611.3M567.1 607.7L569.0 609.5L567.1 611.3M571.9 607.7L573.8 609.5L571.9 611.3M576.8 607.7L578.7 609.5L576.8 611.3M581.7 607.7L583.6 609.5L581.7 611.3" stroke="#6FA1D3" stroke-width="0.75" fill="none"/>
<path d="M559.8 618.5H587.9" stroke="#6FA1D3" stroke-width="0.7"/>
<path d="M561.4 616.7L563.3 618.5L561.4 620.3M566.3 616.7L568.2 618.5L566.3 620.3M571.1 616.7L573.0 618.5L571.1 620.3M576.0 616.7L577.9 618.5L576.0 620.3M580.9 616.7L582.8 618.5L580.9 620.3" stroke="#6FA1D3" stroke-width="0.75" fill="none"/>
<rect x="448.50" y="585.9" width="1.0" height="18.5" fill="#2F6FB3"/>
<rect x="462.75" y="605.1" width="0.9" height="8.6" fill="#2F6FB3"/>
<rect x="559.35" y="614.3" width="0.9" height="8.0" fill="#2F6FB3"/>
<rect x="567.95" y="586.1" width="0.9" height="36.2" fill="#2F6FB3"/>
<rect x="587.25" y="586.1" width="1.3" height="28.0" fill="#2F6FB3"/>
<rect x="587.45" y="613.9" width="0.9" height="8.4" fill="#2F6FB3"/>
<text transform="translate(566.0 631.5) scale(0.72 1)" class="g" fill="#2F6FB3" stroke="#2F6FB3" textLength="28.3" lengthAdjust="spacing">DZIP1</text>
<path d="M590.5 628.3H615.6" stroke="#6FA1D3" stroke-width="0.7"/>
<path d="M606.1 626.5L604.2 628.3L606.1 630.1M611.6 626.5L609.7 628.3L611.6 630.1" stroke="#6FA1D3" stroke-width="0.75" fill="none"/>
<rect x="590.0" y="625.1" width="1.7" height="6.4" fill="#2F6FB3" opacity="1"/>
<text transform="translate(566.0 640.7) scale(0.72 1)" class="g" fill="#2F6FB3" stroke="#2F6FB3" textLength="28.3" lengthAdjust="spacing">DZIP1</text>
<path d="M590.5 637.5H615.6" stroke="#6FA1D3" stroke-width="0.7"/>
<path d="M606.1 635.7L604.2 637.5L606.1 639.3M611.6 635.7L609.7 637.5L611.6 639.3" stroke="#6FA1D3" stroke-width="0.75" fill="none"/>
<rect x="590.0" y="634.3" width="1.7" height="6.4" fill="#2F6FB3" opacity="1"/>
<text transform="translate(566.0 650.0) scale(0.72 1)" class="g" fill="#2F6FB3" stroke="#2F6FB3" textLength="28.3" lengthAdjust="spacing">DZIP1</text>
<path d="M590.5 646.8H615.6" stroke="#6FA1D3" stroke-width="0.7"/>
<path d="M606.1 645.0L604.2 646.8L606.1 648.6M611.6 645.0L609.7 646.8L611.6 648.6" stroke="#6FA1D3" stroke-width="0.75" fill="none"/>
<rect x="590.0" y="643.6" width="1.7" height="6.4" fill="#2F6FB3" opacity="1"/>
<text transform="translate(566.0 659.0) scale(0.72 1)" class="g" fill="#2F6FB3" stroke="#2F6FB3" textLength="28.3" lengthAdjust="spacing">DZIP1</text>
<path d="M590.5 655.8H615.6" stroke="#6FA1D3" stroke-width="0.7"/>
<path d="M606.1 654.0L604.2 655.8L606.1 657.6M611.6 654.0L609.7 655.8L611.6 657.6" stroke="#6FA1D3" stroke-width="0.75" fill="none"/>
<rect x="590.0" y="652.6" width="1.7" height="6.4" fill="#2F6FB3" opacity="1"/>
<text transform="translate(566.0 668.0) scale(0.72 1)" class="g" fill="#2F6FB3" stroke="#2F6FB3" textLength="28.3" lengthAdjust="spacing">DZIP1</text>
<path d="M590.5 664.8H615.6" stroke="#6FA1D3" stroke-width="0.7"/>
<path d="M606.1 663.0L604.2 664.8L606.1 666.6M611.6 663.0L609.7 664.8L611.6 666.6" stroke="#6FA1D3" stroke-width="0.75" fill="none"/>
<rect x="590.0" y="661.6" width="1.7" height="6.4" fill="#2F6FB3" opacity="1"/>
<text transform="translate(566.0 677.2) scale(0.72 1)" class="g" fill="#2F6FB3" stroke="#2F6FB3" textLength="28.3" lengthAdjust="spacing">DZIP1</text>
<path d="M590.5 674.0H615.6" stroke="#6FA1D3" stroke-width="0.7"/>
<path d="M606.1 672.2L604.2 674.0L606.1 675.8M611.6 672.2L609.7 674.0L611.6 675.8" stroke="#6FA1D3" stroke-width="0.75" fill="none"/>
<rect x="590.0" y="670.8" width="1.7" height="6.4" fill="#2F6FB3" opacity="1"/>
<text transform="translate(566.0 686.4) scale(0.72 1)" class="g" fill="#2F6FB3" stroke="#2F6FB3" textLength="28.3" lengthAdjust="spacing">DZIP1</text>
<path d="M590.5 683.2H615.6" stroke="#6FA1D3" stroke-width="0.7"/>
<path d="M606.1 681.4L604.2 683.2L606.1 685.0M611.6 681.4L609.7 683.2L611.6 685.0" stroke="#6FA1D3" stroke-width="0.75" fill="none"/>
<rect x="590.0" y="680.0" width="1.7" height="6.4" fill="#2F6FB3" opacity="1"/>
<rect x="592.85" y="623.4" width="0.7" height="66.6" fill="#2F6FB3"/>
<rect x="594.70" y="623.4" width="1.0" height="66.6" fill="#8DB4DC"/>
<rect x="596.05" y="623.4" width="0.7" height="66.6" fill="#2F6FB3"/>
<rect x="598.30" y="623.4" width="1.2" height="66.6" fill="#5f93c9"/>
<rect x="599.55" y="623.4" width="1.5" height="66.6" fill="#5f93c9"/>
<rect x="601.10" y="623.4" width="0.8" height="66.6" fill="#8DB4DC"/>
<rect x="615.3" y="623.4" width="0.8" height="66.6" fill="#5f93c9"/>
<rect x="612.00" y="632.9" width="0.8" height="18.5" fill="#2F6FB3"/>
<rect x="612.00" y="660.2" width="0.8" height="28.4" fill="#2F6FB3"/>
<rect x="606.00" y="642.2" width="1.0" height="9.2" fill="#2F6FB3"/>
<rect x="606.00" y="678.8" width="1.0" height="9.8" fill="#2F6FB3"/>
</svg>
</body></html>
